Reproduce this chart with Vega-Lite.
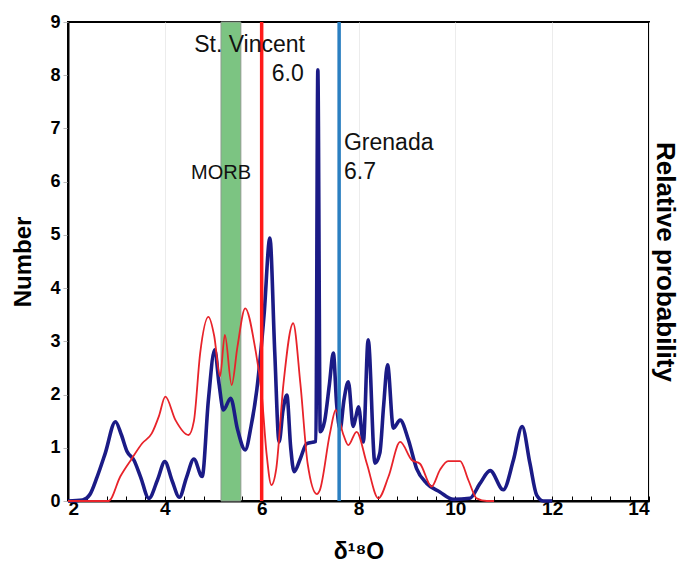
{
  "$schema": "https://vega.github.io/schema/vega-lite/v6.json",
  "autosize": "none",
  "width": 581,
  "height": 479,
  "padding": {"left": 68, "top": 22, "right": 32, "bottom": 63},
  "background": "white",
  "config": {
    "view": {"stroke": "black", "strokeWidth": 2},
    "font": "Liberation Sans"
  },
  "datasets": {
    "curves": [
      {"series": "all", "x": 2.0, "y": 0}, {"series": "all", "x": 2.3, "y": 0.02}, {"series": "all", "x": 2.45, "y": 0.12},
      {"series": "all", "x": 2.6, "y": 0.45}, {"series": "all", "x": 2.77, "y": 0.9}, {"series": "all", "x": 2.98, "y": 1.49},
      {"series": "all", "x": 3.1, "y": 1.25}, {"series": "all", "x": 3.22, "y": 0.93}, {"series": "all", "x": 3.36, "y": 0.77},
      {"series": "all", "x": 3.5, "y": 0.45}, {"series": "all", "x": 3.67, "y": 0.05}, {"series": "all", "x": 3.85, "y": 0.4},
      {"series": "all", "x": 4.0, "y": 0.74}, {"series": "all", "x": 4.15, "y": 0.38}, {"series": "all", "x": 4.3, "y": 0.07},
      {"series": "all", "x": 4.45, "y": 0.45}, {"series": "all", "x": 4.6, "y": 0.79}, {"series": "all", "x": 4.77, "y": 0.46},
      {"series": "all", "x": 4.9, "y": 1.9}, {"series": "all", "x": 5.03, "y": 2.84}, {"series": "all", "x": 5.12, "y": 2.2},
      {"series": "all", "x": 5.21, "y": 1.71}, {"series": "all", "x": 5.36, "y": 1.93}, {"series": "all", "x": 5.5, "y": 1.35},
      {"series": "all", "x": 5.66, "y": 0.96}, {"series": "all", "x": 5.78, "y": 1.4}, {"series": "all", "x": 5.9, "y": 2.09},
      {"series": "all", "x": 6.05, "y": 3.5}, {"series": "all", "x": 6.17, "y": 4.94}, {"series": "all", "x": 6.27, "y": 2.8},
      {"series": "all", "x": 6.36, "y": 1.11}, {"series": "all", "x": 6.44, "y": 1.7}, {"series": "all", "x": 6.52, "y": 1.99},
      {"series": "all", "x": 6.6, "y": 1.0}, {"series": "all", "x": 6.67, "y": 0.55}, {"series": "all", "x": 6.8, "y": 0.8},
      {"series": "all", "x": 6.93, "y": 1.08}, {"series": "all", "x": 7.12, "y": 1.12}, {"series": "all", "x": 7.16, "y": 8.1},
      {"series": "all", "x": 7.21, "y": 1.3}, {"series": "all", "x": 7.3, "y": 1.5}, {"series": "all", "x": 7.4, "y": 2.2},
      {"series": "all", "x": 7.48, "y": 2.78}, {"series": "all", "x": 7.55, "y": 1.8}, {"series": "all", "x": 7.62, "y": 1.35},
      {"series": "all", "x": 7.7, "y": 1.9}, {"series": "all", "x": 7.79, "y": 2.24}, {"series": "all", "x": 7.89, "y": 1.4},
      {"series": "all", "x": 7.95, "y": 1.6}, {"series": "all", "x": 8.0, "y": 1.77}, {"series": "all", "x": 8.1, "y": 1.11},
      {"series": "all", "x": 8.2, "y": 3.03}, {"series": "all", "x": 8.34, "y": 0.71}, {"series": "all", "x": 8.44, "y": 0.9},
      {"series": "all", "x": 8.52, "y": 1.8}, {"series": "all", "x": 8.6, "y": 2.56}, {"series": "all", "x": 8.72, "y": 1.37},
      {"series": "all", "x": 8.86, "y": 1.52}, {"series": "all", "x": 9.03, "y": 1.15}, {"series": "all", "x": 9.2, "y": 0.61},
      {"series": "all", "x": 9.41, "y": 0.33}, {"series": "all", "x": 9.68, "y": 0.17}, {"series": "all", "x": 9.96, "y": 0.03},
      {"series": "all", "x": 10.3, "y": 0.05}, {"series": "all", "x": 10.51, "y": 0.33}, {"series": "all", "x": 10.72, "y": 0.57},
      {"series": "all", "x": 10.99, "y": 0.21}, {"series": "all", "x": 11.2, "y": 0.77}, {"series": "all", "x": 11.38, "y": 1.4},
      {"series": "all", "x": 11.54, "y": 0.71}, {"series": "all", "x": 11.68, "y": 0.11}, {"series": "all", "x": 11.82, "y": 0.0},
      {"series": "all", "x": 12.0, "y": 0},
      {"series": "sv", "x": 2.0, "y": 0}, {"series": "sv", "x": 2.84, "y": 0}, {"series": "sv", "x": 3.08, "y": 0.46},
      {"series": "sv", "x": 3.32, "y": 0.8}, {"series": "sv", "x": 3.53, "y": 1.08}, {"series": "sv", "x": 3.73, "y": 1.27},
      {"series": "sv", "x": 3.88, "y": 1.6}, {"series": "sv", "x": 4.01, "y": 1.96}, {"series": "sv", "x": 4.22, "y": 1.52},
      {"series": "sv", "x": 4.49, "y": 1.24}, {"series": "sv", "x": 4.6, "y": 1.5}, {"series": "sv", "x": 4.73, "y": 2.78},
      {"series": "sv", "x": 4.9, "y": 3.46}, {"series": "sv", "x": 5.02, "y": 3.1}, {"series": "sv", "x": 5.14, "y": 2.34},
      {"series": "sv", "x": 5.24, "y": 3.12}, {"series": "sv", "x": 5.38, "y": 2.18}, {"series": "sv", "x": 5.5, "y": 2.9},
      {"series": "sv", "x": 5.66, "y": 3.62}, {"series": "sv", "x": 5.86, "y": 2.9}, {"series": "sv", "x": 6.0, "y": 2.02},
      {"series": "sv", "x": 6.1, "y": 0.9}, {"series": "sv", "x": 6.2, "y": 0.3}, {"series": "sv", "x": 6.3, "y": 0.6},
      {"series": "sv", "x": 6.45, "y": 2.2}, {"series": "sv", "x": 6.65, "y": 3.34}, {"series": "sv", "x": 6.8, "y": 2.2},
      {"series": "sv", "x": 6.95, "y": 0.7}, {"series": "sv", "x": 7.14, "y": 0.13}, {"series": "sv", "x": 7.2, "y": 0.2},
      {"series": "sv", "x": 7.41, "y": 1.27}, {"series": "sv", "x": 7.53, "y": 1.71}, {"series": "sv", "x": 7.69, "y": 1.24},
      {"series": "sv", "x": 7.79, "y": 1.05}, {"series": "sv", "x": 7.96, "y": 1.3}, {"series": "sv", "x": 8.17, "y": 0.71},
      {"series": "sv", "x": 8.41, "y": 0.05}, {"series": "sv", "x": 8.62, "y": 0.46}, {"series": "sv", "x": 8.86, "y": 1.11},
      {"series": "sv", "x": 9.1, "y": 0.77}, {"series": "sv", "x": 9.27, "y": 0.7}, {"series": "sv", "x": 9.51, "y": 0.27},
      {"series": "sv", "x": 9.68, "y": 0.58}, {"series": "sv", "x": 9.85, "y": 0.75}, {"series": "sv", "x": 10.1, "y": 0.75},
      {"series": "sv", "x": 10.27, "y": 0.39}, {"series": "sv", "x": 10.44, "y": 0.05}, {"series": "sv", "x": 10.65, "y": 0},
      {"series": "sv", "x": 10.8, "y": 0}
    ],
    "refs": [
      {"name": "St. Vincent", "x": 6.0},
      {"name": "Grenada", "x": 7.6}
    ],
    "band": [
      {"name": "MORB", "x": 5.16, "x2": 5.57}
    ],
    "labels": [
      {"text": "St. Vincent", "x": 5.75, "y": 8.57, "align": "center", "size": "big"},
      {"text": "6.0", "x": 6.87, "y": 8.02, "align": "right", "size": "big"},
      {"text": "Grenada", "x": 7.7, "y": 6.73, "align": "left", "size": "big"},
      {"text": "6.7", "x": 7.7, "y": 6.18, "align": "left", "size": "big"},
      {"text": "MORB", "x": 5.16, "y": 6.16, "align": "center", "size": "small"}
    ]
  },
  "resolve": {"axis": {"y": "independent"}, "scale": {"color": "independent", "size": "independent"}},
  "layer": [
    {
      "data": {"name": "band"},
      "mark": {"type": "rect", "color": "#7cc482", "stroke": "#8f9a8f", "strokeWidth": 1},
      "encoding": {
        "x": {"field": "x", "type": "quantitative", "scale": {"domain": [2, 14], "nice": false},
          "axis": {
            "values": [2, 2.4, 2.8, 3.2, 3.6, 4, 4.4, 4.8, 5.2, 5.6, 6, 6.4, 6.8, 7.2, 7.6, 8, 8.4, 8.8, 9.2, 9.6, 10, 10.4, 10.8, 11.2, 11.6, 12, 12.4, 12.8, 13.2, 13.6, 14],
            "tickCount": 100,
            "labelExpr": "abs(datum.value / 2 - round(datum.value / 2)) < 0.01 ? format(datum.value, 'd') : ''",
            "labelOverlap": false,
            "labelFontSize": 19, "labelFontWeight": "bold", "labelColor": "black",
            "labelPadding": 3,
            "tickSize": -5, "tickColor": "black", "tickWidth": 1,
            "domainColor": "black", "domainWidth": 2,
            "grid": true, "gridColor": "#ececec",
            "gridOpacity": {"condition": {"test": "abs(datum.value / 2 - round(datum.value / 2)) < 0.01", "value": 1}, "value": 0},
            "title": "δ¹⁸O", "titleFontSize": 23, "titleFontWeight": "bold", "titleColor": "black", "titlePadding": 22
          }},
        "x2": {"field": "x2"}
      }
    },
    {
      "data": {"name": "curves"},
      "mark": {"type": "line", "interpolate": "monotone"},
      "encoding": {
        "x": {"field": "x", "type": "quantitative"},
        "y": {"field": "y", "type": "quantitative", "scale": {"domain": [0, 9], "nice": false},
          "axis": {
            "values": [0, 1, 2, 3, 4, 5, 6, 7, 8, 9],
            "labelFontSize": 18, "labelFontWeight": "bold", "labelColor": "black", "labelPadding": 3,
            "tickSize": 5, "tickColor": "#bbbbbb", "domainColor": "black", "domainWidth": 2,
            "grid": false,
            "title": "Number", "titleFontSize": 24, "titleFontWeight": "bold", "titleColor": "black", "titlePadding": 14
          }},
        "color": {"field": "series", "type": "nominal", "legend": null,
          "scale": {"domain": ["sv", "all"], "range": ["#e8232a", "#1b1b86"]}},
        "strokeWidth": {"field": "series", "type": "nominal", "legend": null,
          "scale": {"domain": ["sv", "all"], "range": [1.8, 3.6]}},
        "order": {"field": "x", "type": "quantitative"}
      }
    },
    {
      "data": {"name": "refs"},
      "mark": {"type": "rule", "strokeWidth": 3.5},
      "encoding": {
        "x": {"field": "x", "type": "quantitative"},
        "color": {"field": "name", "type": "nominal", "legend": null,
          "scale": {"domain": ["St. Vincent", "Grenada"], "range": ["#ff1a1a", "#2b7fc1"]}}
      }
    },
    {
      "data": {"name": "labels"},
      "transform": [{"filter": "datum.align === 'center'"}],
      "mark": {"type": "text", "align": "center", "baseline": "middle", "font": "Liberation Sans", "color": "#111111"},
      "encoding": {
        "x": {"field": "x", "type": "quantitative"},
        "y": {"field": "y", "type": "quantitative",
          "axis": {"orient": "right", "labels": false, "ticks": false, "domain": false, "grid": false,
            "title": "Relative probability", "titleFontSize": 26, "titleFontWeight": "bold", "titleColor": "black",
            "titleAngle": 90, "titlePadding": 2}},
        "text": {"field": "text"},
        "size": {"field": "size", "type": "nominal", "legend": null,
          "scale": {"domain": ["big", "small"], "range": [23, 20]}}
      }
    },
    {
      "data": {"name": "labels"},
      "transform": [{"filter": "datum.align === 'right'"}],
      "mark": {"type": "text", "align": "right", "baseline": "middle", "font": "Liberation Sans", "color": "#111111", "fontSize": 23},
      "encoding": {
        "x": {"field": "x", "type": "quantitative"},
        "y": {"field": "y", "type": "quantitative", "axis": null},
        "text": {"field": "text"}
      }
    },
    {
      "data": {"name": "labels"},
      "transform": [{"filter": "datum.align === 'left'"}],
      "mark": {"type": "text", "align": "left", "baseline": "middle", "font": "Liberation Sans", "color": "#111111", "fontSize": 23},
      "encoding": {
        "x": {"field": "x", "type": "quantitative"},
        "y": {"field": "y", "type": "quantitative", "axis": null},
        "text": {"field": "text"}
      }
    }
  ]
}
